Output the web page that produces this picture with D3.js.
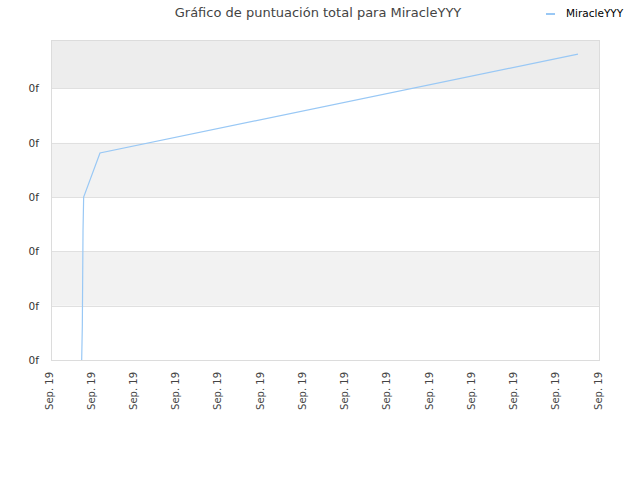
<!DOCTYPE html>
<html>
<head>
<meta charset="utf-8">
<script src="https://cdn.jsdelivr.net/npm/d3@7"></script>
<style>
  body { margin: 0; background: #fff; }
  svg { font-family: "DejaVu Sans", sans-serif; }
</style>
</head>
<body>
<script>
/* chart values */
var title = "Gráfico de puntuación total para MiracleYYY"
var seriesName = "MiracleYYY"
var times = ["2019-09-19T00:43:36", "2019-09-19T00:44:30", "2019-09-19T00:45:30",
             "2019-09-19T00:46:24", "2019-09-19T01:09:36", "2019-09-19T12:28:42"]
var scores = [0, 0.62, 2.39, 3.0, 3.81, 5.63]
var yTicks = [0, 1, 2, 3, 4, 5]
var yTickLabel = "0f"
var xTickLabel = "Sep. 19"
var xStart = "2019-09-19T00:00:00"
var xEnd = "2019-09-19T13:00:00"

var width = 640, height = 480
var margin = {left: 51, right: 40, top: 40, bottom: 120}

var parse = d3.isoParse
var data = times.map(function(t, i) { return {t: parse(t), v: scores[i]} })

var svg = d3.select("body").append("svg")
    .attr("width", width)
    .attr("height", height)

var x = d3.scaleTime()
    .domain([parse(xStart), parse(xEnd)])
    .range([margin.left, width - margin.right])

var y = d3.scaleLinear()
    .domain([0, 5.89])
    .range([height - margin.bottom, margin.top])

/* alternating bands between grid lines */
var bandEdges = yTicks.concat([y.domain()[1]])
svg.selectAll("rect.band")
    .data(d3.range(bandEdges.length - 1))
    .enter()
    .append("rect")
    .attr("class", "band")
    .attr("x", margin.left)
    .attr("width", width - margin.left - margin.right)
    .attr("y", function(i) { return y(bandEdges[i + 1]) })
    .attr("height", function(i) { return y(bandEdges[i]) - y(bandEdges[i + 1]) })
    .attr("fill", function(i) {
        if (i == bandEdges.length - 2) return "#ededed"
        return i % 2 == 1 ? "#f2f2f2" : "#ffffff"
    })

/* grid lines */
svg.selectAll("line.grid")
    .data(yTicks)
    .enter()
    .append("line")
    .attr("x1", margin.left)
    .attr("x2", width - margin.right)
    .attr("y1", function(d) { return Math.round(y(d)) + 0.5 })
    .attr("y2", function(d) { return Math.round(y(d)) + 0.5 })
    .attr("stroke", "#e0e0e0")

/* frame */
svg.append("rect")
    .attr("x", margin.left + 0.5)
    .attr("y", margin.top + 0.5)
    .attr("width", width - margin.left - margin.right - 1)
    .attr("height", height - margin.top - margin.bottom)
    .attr("fill", "none")
    .attr("stroke", "#dcdcdc")

/* y axis */
var yAxis = d3.axisLeft(y)
    .tickValues(yTicks)
    .tickSize(0)
    .tickPadding(12)
    .tickFormat(function() { return yTickLabel })

svg.append("g")
    .attr("transform", "translate(" + margin.left + ",0)")
    .call(yAxis)
    .call(function(g) { g.select(".domain").remove() })
    .selectAll("text")
    .attr("font-size", "10.5px")
    .attr("font-family", "DejaVu Sans, sans-serif")
    .attr("fill", "#333")

/* x axis */
var xTicks = d3.range(14).map(function(i) {
    return new Date(parse(xStart).getTime() + i * 3600 * 1000)
})
var xAxis = d3.axisBottom(x)
    .tickValues(xTicks)
    .tickSize(0)
    .tickFormat(function() { return xTickLabel })

svg.append("g")
    .attr("transform", "translate(0," + (height - margin.bottom) + ")")
    .call(xAxis)
    .call(function(g) { g.select(".domain").remove() })
    .selectAll("text")
    .attr("font-size", "10px")
    .attr("font-family", "DejaVu Sans, sans-serif")
    .attr("fill", "#444")
    .attr("text-anchor", "end")
    .attr("dy", "0.1em")
    .attr("transform", "translate(0,12) rotate(-90)")
    .attr("y", 0)
    .attr("x", 0)

/* the series line */
var line = d3.line()
    .x(function(d) { return x(d.t) })
    .y(function(d) { return y(d.v) })

svg.append("path")
    .datum(data)
    .attr("d", line)
    .attr("fill", "none")
    .attr("stroke", "#99c8f5")
    .attr("stroke-width", 1.2)

/* title */
svg.append("text")
    .attr("x", 318)
    .attr("y", 17)
    .attr("text-anchor", "middle")
    .attr("font-size", "13px")
    .attr("fill", "#444")
    .text(title)

/* legend */
svg.append("line")
    .attr("x1", 546).attr("x2", 555)
    .attr("y1", 14).attr("y2", 14)
    .attr("stroke", "#99c8f5")
    .attr("stroke-width", 2)

svg.append("text")
    .attr("x", 566)
    .attr("y", 17)
    .attr("font-size", "10.5px")
    .attr("fill", "#000")
    .text(seriesName)
</script>
</body>
</html>
